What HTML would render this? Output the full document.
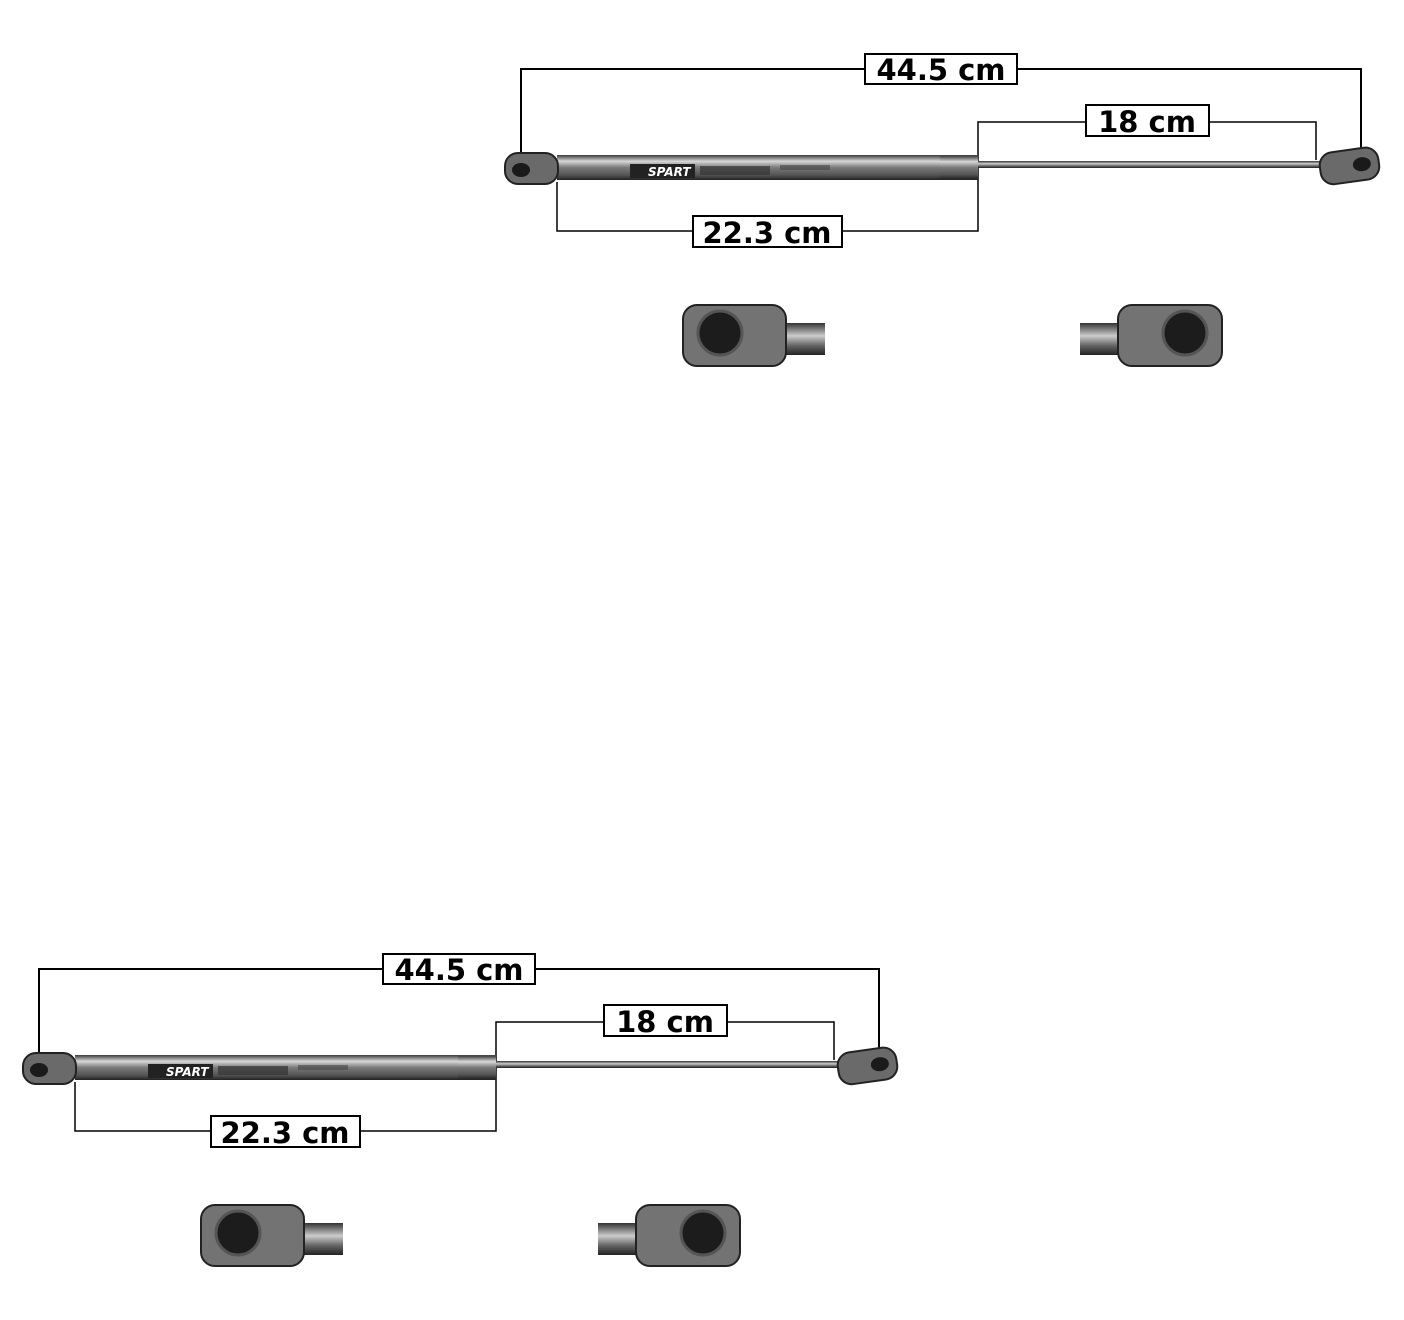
<!DOCTYPE html>
<html><head><meta charset="utf-8"><style>
html,body{margin:0;padding:0;background:#fff;width:1404px;height:1320px;overflow:hidden}
svg{display:block}
text{font-family:"DejaVu Sans","Liberation Sans",sans-serif;font-weight:bold;font-size:29px;fill:#000}
</style></head><body>
<svg width="1404" height="1320" viewBox="0 0 1404 1320">
<defs>
<linearGradient id="cyl" x1="0" y1="0" x2="0" y2="1">
<stop offset="0" stop-color="#3a3a3a"/><stop offset="0.25" stop-color="#d8d8d8"/><stop offset="0.5" stop-color="#7a7a7a"/><stop offset="0.8" stop-color="#555"/><stop offset="1" stop-color="#222"/></linearGradient>
<linearGradient id="rod" x1="0" y1="0" x2="0" y2="1">
<stop offset="0" stop-color="#333"/><stop offset="0.4" stop-color="#ccc"/><stop offset="0.7" stop-color="#666"/><stop offset="1" stop-color="#222"/></linearGradient>
</defs>

<g id="top">
<g fill="none" stroke="#000" stroke-width="2">
<path d="M521 163 V69 H1361 V160"/>
<path d="M557 182 V231 H978 V122 H1316 V160" stroke-width="1.5"/>
</g>
<rect x="557" y="155" width="421" height="25" fill="url(#cyl)"/>
<rect x="940" y="156" width="38" height="23" fill="url(#cyl)" opacity="0.8"/>
<rect x="978" y="161" width="342" height="7" fill="url(#rod)"/>
<rect x="505" y="153" width="53" height="31" rx="13" fill="#6a6a6a" stroke="#222" stroke-width="2"/>
<ellipse cx="521" cy="170" rx="9" ry="7" fill="#1a1a1a"/>
<g transform="rotate(-8 1349 166)"><rect x="1320" y="150" width="59" height="32" rx="13" fill="#6a6a6a" stroke="#222" stroke-width="2"/><ellipse cx="1362" cy="166" rx="9" ry="7" fill="#1a1a1a"/></g>
<rect x="630" y="164" width="65" height="14" fill="#222"/>
<text x="648" y="176" style="font-size:12px;fill:#fff;font-style:italic">SPART</text>
<rect x="700" y="166" width="70" height="9" fill="#333" opacity="0.7"/>
<rect x="780" y="165" width="50" height="5" fill="#444" opacity="0.6"/>
<rect x="865" y="54" width="152" height="30" fill="#fff" stroke="#000" stroke-width="2"/>
<text x="941" y="80" text-anchor="middle">44.5 cm</text>
<rect x="1086" y="105" width="123" height="31" fill="#fff" stroke="#000" stroke-width="2"/>
<text x="1147" y="132" text-anchor="middle">18 cm</text>
<rect x="693" y="216" width="149" height="31" fill="#fff" stroke="#000" stroke-width="2"/>
<text x="767" y="243" text-anchor="middle">22.3 cm</text>
<rect x="785" y="323" width="40" height="32" fill="url(#rod)"/>
<rect x="683" y="305" width="103" height="61" rx="14" fill="#737373" stroke="#222" stroke-width="2"/>
<circle cx="720" cy="333" r="22" fill="#1c1c1c" stroke="#555" stroke-width="3"/>
<rect x="1080" y="323" width="40" height="32" fill="url(#rod)"/>
<rect x="1118" y="305" width="104" height="61" rx="14" fill="#737373" stroke="#222" stroke-width="2"/>
<circle cx="1185" cy="333" r="22" fill="#1c1c1c" stroke="#555" stroke-width="3"/>
</g>

<g transform="translate(-482 900)">
<g fill="none" stroke="#000" stroke-width="2">
<path d="M521 163 V69 H1361 V160"/>
<path d="M557 182 V231 H978 V122 H1316 V160" stroke-width="1.5"/>
</g>
<rect x="557" y="155" width="421" height="25" fill="url(#cyl)"/>
<rect x="940" y="156" width="38" height="23" fill="url(#cyl)" opacity="0.8"/>
<rect x="978" y="161" width="342" height="7" fill="url(#rod)"/>
<rect x="505" y="153" width="53" height="31" rx="13" fill="#6a6a6a" stroke="#222" stroke-width="2"/>
<ellipse cx="521" cy="170" rx="9" ry="7" fill="#1a1a1a"/>
<g transform="rotate(-8 1349 166)"><rect x="1320" y="150" width="59" height="32" rx="13" fill="#6a6a6a" stroke="#222" stroke-width="2"/><ellipse cx="1362" cy="166" rx="9" ry="7" fill="#1a1a1a"/></g>
<rect x="630" y="164" width="65" height="14" fill="#222"/>
<text x="648" y="176" style="font-size:12px;fill:#fff;font-style:italic">SPART</text>
<rect x="700" y="166" width="70" height="9" fill="#333" opacity="0.7"/>
<rect x="780" y="165" width="50" height="5" fill="#444" opacity="0.6"/>
<rect x="865" y="54" width="152" height="30" fill="#fff" stroke="#000" stroke-width="2"/>
<text x="941" y="80" text-anchor="middle">44.5 cm</text>
<rect x="1086" y="105" width="123" height="31" fill="#fff" stroke="#000" stroke-width="2"/>
<text x="1147" y="132" text-anchor="middle">18 cm</text>
<rect x="693" y="216" width="149" height="31" fill="#fff" stroke="#000" stroke-width="2"/>
<text x="767" y="243" text-anchor="middle">22.3 cm</text>
<rect x="785" y="323" width="40" height="32" fill="url(#rod)"/>
<rect x="683" y="305" width="103" height="61" rx="14" fill="#737373" stroke="#222" stroke-width="2"/>
<circle cx="720" cy="333" r="22" fill="#1c1c1c" stroke="#555" stroke-width="3"/>
<rect x="1080" y="323" width="40" height="32" fill="url(#rod)"/>
<rect x="1118" y="305" width="104" height="61" rx="14" fill="#737373" stroke="#222" stroke-width="2"/>
<circle cx="1185" cy="333" r="22" fill="#1c1c1c" stroke="#555" stroke-width="3"/>
</g>
</svg>
</body></html>
